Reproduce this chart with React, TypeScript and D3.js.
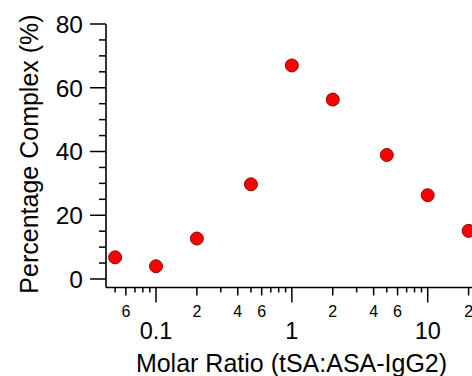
import React from "react";
import * as d3 from "d3";

const ratios = [0.05, 0.1, 0.2, 0.5, 1, 2, 5, 10, 20];
const complexPct = [6.8, 4.0, 12.7, 29.7, 67.0, 56.3, 38.9, 26.3, 15.1];
const yMajorTicks = [0, 20, 40, 60, 80];
const xMajorTicks = [0.1, 1, 10];
const xMinorLabels = [2, 4, 6];
const xTitle = "Molar Ratio (tSA:ASA-IgG2)";
const yTitle = "Percentage Complex (%)";

const W = 472;
const H = 376;
const FONT = "Liberation Sans, Arial, Helvetica, sans-serif";

export default function App() {
  const x = d3.scaleLog().domain([0.1, 10]).range([156, 427.7]);
  const y = d3.scaleLinear().domain([0, 80]).range([279, 24]);
  const x0 = 106;
  const yBase = 287.5;
  const xLeft = x.invert(x0);
  const xRight = x.invert(W + 10);

  const xTicks: { v: number; m: number }[] = [];
  for (let e = -3; e <= 2; e++) {
    for (let m = 1; m <= 9; m++) {
      const v = m * Math.pow(10, e);
      if (v >= xLeft && v <= xRight) xTicks.push({ v, m });
    }
  }
  const yMinor = d3.range(0, 81, 5).filter((v) => v % 20 !== 0);

  return (
    <svg
      width={W}
      height={H}
      style={{ position: "fixed", left: 0, top: 0, background: "#fff" }}
      fontFamily={FONT}
    >
      <rect x={0} y={0} width={W} height={H} fill="#fff" />
      {/* axes lines */}
      <line x1={x0} x2={x0} y1={y(80)} y2={yBase} stroke="#000" strokeWidth={1.6} />
      <line x1={x0} x2={W + 10} y1={yBase} y2={yBase} stroke="#000" strokeWidth={1.6} />
      {/* y ticks */}
      {yMajorTicks.map((v) => (
        <g key={"ym" + v}>
          <line x1={x0 - 16} x2={x0} y1={y(v)} y2={y(v)} stroke="#000" strokeWidth={1.5} />
          <text x={83} y={y(v)} dy="0.36em" textAnchor="end" fontSize={24.5} fill="#000">
            {v}
          </text>
        </g>
      ))}
      {yMinor.map((v) => (
        <line key={"yn" + v} x1={x0 - 7} x2={x0} y1={y(v)} y2={y(v)} stroke="#000" strokeWidth={1.5} />
      ))}
      {/* x ticks */}
      {xTicks.map(({ v, m }) => {
        const major = m === 1;
        const labeled = xMinorLabels.includes(m);
        const len = major ? 15 : labeled ? 8 : 5;
        return (
          <g key={"xt" + v}>
            <line x1={x(v)} x2={x(v)} y1={yBase} y2={yBase + len} stroke="#000" strokeWidth={1.5} />
            {labeled && (
              <text x={x(v)} y={316.5} textAnchor="middle" fontSize={16} fill="#000">
                {m}
              </text>
            )}
          </g>
        );
      })}
      {xMajorTicks.map((v) => (
        <text key={"xl" + v} x={x(v)} y={338.5} textAnchor="middle" fontSize={23.5} fill="#000">
          {String(v)}
        </text>
      ))}
      {/* titles */}
      <text x={291.5} y={371.5} textAnchor="middle" fontSize={25} fill="#000">
        {xTitle}
      </text>
      <text
        transform={`translate(37.5,154) rotate(-90)`}
        textAnchor="middle"
        fontSize={25}
        fill="#000"
      >
        {yTitle}
      </text>
      {/* points */}
      {ratios.map((r, i) => (
        <circle
          key={"p" + i}
          cx={x(r)}
          cy={y(complexPct[i])}
          r={6.5}
          fill="#ff0000"
          stroke="#7a1010"
          strokeWidth={1}
        />
      ))}
    </svg>
  );
}
